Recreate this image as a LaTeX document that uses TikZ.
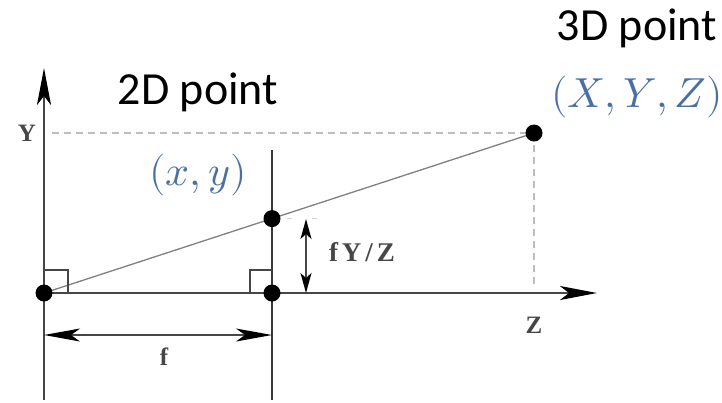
\documentclass[tikz,border=0pt]{standalone}
\usepackage{fontspec}
\usepackage{unicode-math}
\setmainfont{Liberation Serif}
\setmathfont{Latin Modern Math}
\newfontfamily\labfont{Carlito}
\usetikzlibrary{arrows.meta}
\definecolor{axisgray}{RGB}{70,70,70}
\definecolor{dashgray}{RGB}{190,190,190}
\definecolor{ptblue}{RGB}{74,112,163}
\begin{document}
\begin{tikzpicture}[x=1pt,y=-1pt,
  axis/.style={draw=axisgray,line width=2.4pt},
  plane/.style={draw=axisgray!80!black,line width=2pt},
  ray/.style={draw=gray,line width=1.3pt},
  guide/.style={draw=dashgray,line width=2pt,dash pattern=on 7pt off 5pt},
  faint/.style={draw=dashgray!70,line width=1pt,dash pattern=on 5pt off 20pt},
  rightang/.style={draw=axisgray,line width=1.6pt},
  dim/.style={draw=axisgray,line width=1.6pt},
  dot/.style={circle,fill=black,inner sep=0pt,minimum size=17pt},
  bigtip/.tip={Stealth[length=37pt,width=14pt,inset=9pt,color=black]},
  dimtip/.tip={Stealth[length=36pt,width=13pt,inset=9pt,color=black]},
  smalltip/.tip={Stealth[length=20pt,width=11pt,inset=5pt,color=black]},
  title/.style={font=\labfont\fontsize{46}{50}\selectfont,inner sep=0pt},
  coord/.style={text=ptblue,font=\fontsize{42}{46}\selectfont,inner sep=0pt},
  axlabel/.style={text=axisgray,font=\bfseries\fontsize{25}{28}\selectfont,inner sep=0pt}
]
\useasboundingbox (0,0) rectangle (722,402);
% key points
\coordinate (O) at (44,293);
\coordinate (I) at (272,293);
\coordinate (P) at (272,218.6);
\coordinate (Q) at (534,133);
\coordinate (Ybot) at (44,400);
\coordinate (Ytop) at (44,68);
\coordinate (Zend) at (597,293);
\coordinate (PLtop) at (272,150);
\coordinate (PLbot) at (272,400);
\coordinate (Yd) at (52,133);
\coordinate (Qd) at (534,287);
\coordinate (F1) at (44,335);
\coordinate (F2) at (272,335);
\coordinate (H1) at (306,219);
\coordinate (H2) at (306,293);
\coordinate (T1) at (287,218);
\coordinate (T2) at (330,218);
% guides
\draw[guide] (Yd) -- (Q);
\draw[guide] (Q) -- (Qd);
\draw[faint] (T1) -- (T2);
% axes
\draw[axis,-bigtip] (Ybot) -- (Ytop);
\draw[axis,-bigtip] (O) -- (Zend);
\draw[plane] (PLbot) -- (PLtop);
% ray
\draw[ray] (O) -- (Q);
% right angles
\draw[rightang] (44,270) -- (68,270) -- (68,293);
\draw[rightang] (250,293) -- (250,270) -- (272,270);
% dimensions
\draw[dim,dimtip-dimtip] (F1) -- (F2);
\draw[dim,smalltip-smalltip] (H1) -- (H2);
% dots
\node[dot] (o) at (O) {};
\node[dot] (i) at (I) {};
\node[dot] (p) at (P) {};
\node[dot] (q) at (Q) {};
% labels
\node[axlabel] (ylab) at (27,133) {Y};
\node[axlabel] (zlab) at (534,325) {Z};
\node[axlabel] (flab) at (164,357) {f};
\node[axlabel,font=\bfseries\fontsize{27}{30}\selectfont] (fyz) at (362,252) {f\hspace{4pt}Y\hspace{4pt}/\hspace{4pt}Z};
\node[title] (t2d) at (198,92) {2D point};
\node[title] (t3d) at (637,28) {3D point};
\node[coord] (c2d) at (198,175) {$(x,y)$};
\node[coord] (c3d) at (637,97) {$(X,Y,Z)$};
\end{tikzpicture}
\end{document}
